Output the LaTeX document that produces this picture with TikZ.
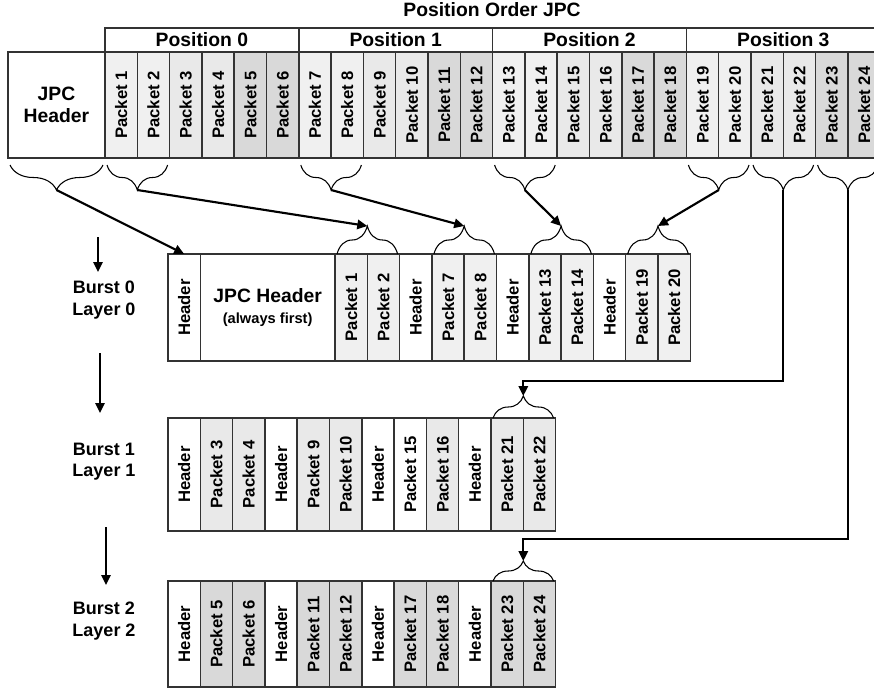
\documentclass[tikz,border=0pt]{standalone}
\usepackage{fontspec}
\setmainfont{Liberation Sans}
\usetikzlibrary{arrows.meta,positioning,calc,decorations.pathreplacing}
\definecolor{cellline}{HTML}{333333}
\definecolor{layzero}{HTML}{F0F0F0}
\definecolor{layone}{HTML}{E9E9E9}
\definecolor{laytwo}{HTML}{D9D9D9}
\newcommand\pxu{0.75pt}
\newcommand\bigfont{\fontsize{14.5}{17}\selectfont\bfseries}

\begin{document}
\begin{tikzpicture}[
  x=0.75pt, y=-0.75pt,
  cell/.style={draw=cellline, line width=1.1pt, inner sep=0pt, outer sep=0pt,
    minimum width=32.3*\pxu, minimum height=106*\pxu,
    font=\fontsize{12.5}{15}\selectfont\bfseries},
  hdrcell/.style={cell, fill=white},
  lay0/.style={cell, fill=layzero},
  lay1/.style={cell, fill=layone},
  lay2/.style={cell, fill=laytwo},
  posbox/.style={draw=cellline, line width=1.1pt, inner sep=0pt, outer sep=0pt,
    minimum width=193.8*\pxu, minimum height=24*\pxu, font=\bigfont},
  lbl/.style={font=\fontsize{13.5}{16}\selectfont\bfseries, align=center},
  brc/.style={draw, line width=0.8pt, decorate},
  arr/.style={-{Triangle[length=7.5pt,width=7pt]}, line width=1.6pt}
]
  \useasboundingbox (0,0) rectangle (874,689);
  \clip (0,0) rectangle (874,689);
  % Source stream
  \node[lbl, font=\bigfont] (title) at (492,10) {Position Order JPC};
  \node[cell, minimum width=97*\pxu, align=center, font=\bigfont] (t0) at (56.5,105)
    {JPC\\Header};
  \foreach \i in {1,...,24}{
    \pgfmathtruncatemacro\j{\i-1}
    \pgfmathtruncatemacro\k{mod(floor((\i-1)/2),3)}
    \node[lay\k, right=0pt of t\j] (t\i) {\rotatebox{90}{Packet \i}};
  }
  \node[posbox, anchor=south west] (pos0) at (t1.north west) {Position 0};
  \foreach \i in {1,2,3}{
    \pgfmathtruncatemacro\j{\i-1}
    \node[posbox, right=0pt of pos\j] (pos\i) {Position \i};
  }
  % Burst 0
  \begin{scope}[cell/.append style={minimum height=107*\pxu}]
    \node[hdrcell, anchor=north west] (r0c1) at (168,254) {\rotatebox{90}{Header}};
    \node[hdrcell, minimum width=134.7*\pxu, right=0pt of r0c1, align=center,
      font=\bigfont] (r0c2)
      {JPC Header\\[-1pt]{\fontsize{11}{13}\selectfont(always first)}};
    \foreach \st/\tx [count=\c from 3] in {lay0/Packet 1, lay0/Packet 2,
        hdrcell/Header, lay0/Packet 7, lay0/Packet 8, hdrcell/Header,
        lay0/Packet 13, lay0/Packet 14, hdrcell/Header, lay0/Packet 19,
        lay0/Packet 20}{
      \pgfmathtruncatemacro\j{\c-1}
      \node[\st, right=0pt of r0c\j] (r0c\c) {\rotatebox{90}{\tx}};
    }
  \end{scope}
  % Burst 1
  \begin{scope}[cell/.append style={minimum height=113*\pxu}]
    \node[hdrcell, anchor=north west] (r1c1) at (168,418) {\rotatebox{90}{Header}};
    \foreach \st/\tx [count=\c from 2] in {lay1/Packet 3, lay1/Packet 4,
        hdrcell/Header, lay1/Packet 9, lay1/Packet 10, hdrcell/Header,
        hdrcell/Packet 15, lay1/Packet 16, hdrcell/Header, lay1/Packet 21,
        lay1/Packet 22}{
      \pgfmathtruncatemacro\j{\c-1}
      \node[\st, right=0pt of r1c\j] (r1c\c) {\rotatebox{90}{\tx}};
    }
  \end{scope}
  % Burst 2
  \begin{scope}[cell/.append style={minimum height=106*\pxu}]
    \node[hdrcell, anchor=north west] (r2c1) at (168,581) {\rotatebox{90}{Header}};
    \foreach \st/\tx [count=\c from 2] in {lay2/Packet 5, lay2/Packet 6,
        hdrcell/Header, lay2/Packet 11, lay2/Packet 12, hdrcell/Header,
        lay2/Packet 17, lay2/Packet 18, hdrcell/Header, lay2/Packet 23,
        lay2/Packet 24}{
      \pgfmathtruncatemacro\j{\c-1}
      \node[\st, right=0pt of r2c\j] (r2c\c) {\rotatebox{90}{\tx}};
    }
  \end{scope}
  % Braces under the source stream
  \foreach \a/\b/\n in {t0/t0/tj, t1/t2/t12, t7/t8/t78, t13/t14/t1314,
      t19/t20/t1920, t21/t22/t2122, t23/t24/t2324}{
    \draw[brc, decoration={brace, mirror, amplitude=25*\pxu}]
      ($(\a.south west)+(2,7)$) -- ($(\b.south east)+(-2,7)$);
    \coordinate (\n) at ($(\a.south west)!0.5!(\b.south east)+(0,32)$);
  }
  % Braces over the bursts
  \foreach \a/\b/\n/\h in {r0c3/r0c4/b12/28, r0c6/r0c7/b78/28,
      r0c9/r0c10/b1314/28, r0c12/r0c13/b1920/28,
      r1c11/r1c12/s2122/22, r2c11/r2c12/s2324/20}{
    \draw[brc, decoration={brace, amplitude=\h*\pxu}]
      ($(\a.north west)+(2,0)$) -- ($(\b.north east)+(-2,0)$);
    \coordinate (\n) at ($(\a.north west)!0.5!(\b.north east)+(0,-\h)$);
  }
  % Burst labels
  \node[lbl] (lb0) at (104,300) {Burst 0\\Layer 0};
  \node[lbl] (lb1) at (104,462) {Burst 1\\Layer 1};
  \node[lbl] (lb2) at (104,621) {Burst 2\\Layer 2};
  \coordinate (d0a) at (98,237);  \coordinate (d0b) at (98,272);
  \coordinate (d1a) at (100,353); \coordinate (d1b) at (100,413);
  \coordinate (d2a) at (106,527); \coordinate (d2b) at (106,585);
  \coordinate (bend1) at (0,381); \coordinate (bend2) at (0,539);
  % Arrows
  \draw[arr] (d0a) -- (d0b);
  \draw[arr] (d1a) -- (d1b);
  \draw[arr] (d2a) -- (d2b);
  \draw[arr] (tj) -- (r0c1.north);
  \draw[arr] (t12) -- (b12);
  \draw[arr] (t78) -- (b78);
  \draw[arr] (t1314) -- (b1314);
  \draw[arr] (t1920) -- (b1920);
  \draw[arr] (t2122) -- (t2122 |- bend1) -| (s2122);
  \draw[arr] (t2324) -- (t2324 |- bend2) -| (s2324);
\end{tikzpicture}
\end{document}
